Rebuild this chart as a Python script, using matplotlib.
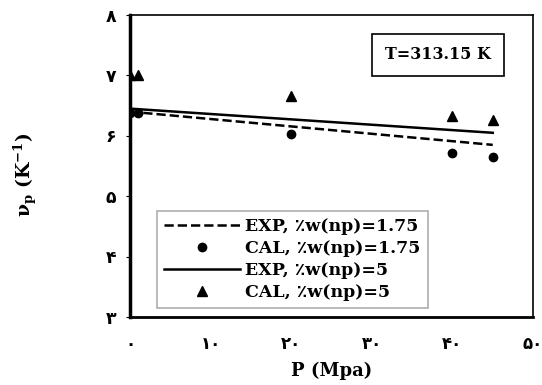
import matplotlib.pyplot as plt

# Daten
p_exp = [0, 45]
exp_175 = [6.40, 5.85]
exp_5 = [6.45, 6.05]

p_cal = [0, 1, 20, 40, 45]
cal_175 = [6.38, 6.38, 6.03, 5.72, 5.65]
cal_5 = [7.0, 7.0, 6.66, 6.33, 6.26]

x_ticks = [0, 10, 20, 30, 40, 50]
x_labels = ['۰', '۱۰', '۲۰', '۳۰', '۴۰', '۵۰']
y_ticks = [3, 4, 5, 6, 7, 8]
y_labels = ['۳', '۴', '۵', '۶', '۷', '۸']

fam = ['DejaVu Serif', 'DejaVu Sans']
plt.rcParams['font.family'] = fam
plt.rcParams['font.weight'] = 'bold'
plt.rcParams['mathtext.fontset'] = 'custom'
plt.rcParams['mathtext.rm'] = 'DejaVu Serif:bold'
plt.rcParams['mathtext.it'] = 'DejaVu Serif:bold'
plt.rcParams['mathtext.bf'] = 'DejaVu Serif:bold'

fig = plt.figure(figsize=(5.42, 3.85), dpi=100)
ax = fig.add_axes([0.24, 0.1766, 0.7435, 0.7844])

ax.plot(p_exp, exp_175, 'k--', lw=1.8, label='EXP, ٪w(np)=1.75')
ax.plot(p_cal, cal_175, 'ko', ms=6, ls='none', label='CAL, ٪w(np)=1.75')
ax.plot(p_exp, exp_5, 'k-', lw=1.8, label='EXP, ٪w(np)=5')
ax.plot(p_cal, cal_5, 'k^', ms=7, ls='none', label='CAL, ٪w(np)=5')

ax.set_xlim(0, 50)
ax.set_ylim(3, 8)
ax.set_xticks(x_ticks)
ax.set_xticklabels(x_labels, fontsize=12, fontweight='bold')
ax.set_yticks(y_ticks)
ax.set_yticklabels(y_labels, fontsize=12.5, fontweight='bold')
ax.tick_params(axis='x', length=0, pad=14)
ax.tick_params(axis='y', length=3, direction='out', pad=7)

for s in ax.spines.values():
    s.set_linewidth(1.2)
ax.spines['left'].set_linewidth(2.5)
ax.spines['bottom'].set_linewidth(2.0)

ax.set_xlabel('P (Mpa)', fontsize=13, fontweight='bold', labelpad=6)
ax.set_ylabel(r'$\nu_\mathrm{p}$ (K$^\mathrm{-1}$)', fontsize=13.5, fontweight='bold')
ax.yaxis.set_label_coords(-0.225, 0.47)

leg = ax.legend(loc='lower left', bbox_to_anchor=(0.045, 0.0), fontsize=12.5,
                frameon=True, fancybox=False, handlelength=4.4, handletextpad=0.3,
                labelspacing=0.3, borderpad=0.4)
leg.get_frame().set_edgecolor('#999999')
leg.get_frame().set_linewidth(1.2)

ax.text(0.764, 0.868, 'T=313.15 K', transform=ax.transAxes, ha='center', va='center',
        fontsize=11.5, fontweight='bold',
        bbox=dict(boxstyle='square,pad=0.8', fc='white', ec='black', lw=1.2))

fig.savefig('out.png', dpi=100)
